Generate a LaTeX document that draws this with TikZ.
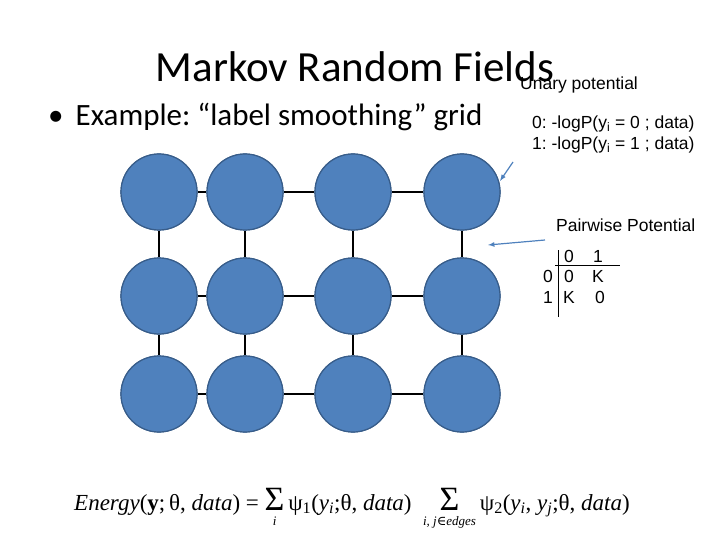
\documentclass[tikz,border=0pt]{standalone}
\usepackage{fontspec}
\setmainfont{Carlito}
\newfontfamily\arial{Liberation Sans}
\newfontfamily\tms{Liberation Serif}
\newfontfamily\dvs{DejaVu Serif}
\newcommand{\mysum}[1]{\ensuremath{\mathop{\hbox{\fontsize{34}{34}\tms Σ}}\limits_{\hbox{\rule{0pt}{14pt}\fontsize{13}{13}\tms\itshape #1}}}\,}
\frenchspacing
\begin{document}
\begin{tikzpicture}[x=1pt,y=-1pt,
  nd/.style={circle,fill={rgb,255:red,79;green,129;blue,189},draw={rgb,255:red,56;green,93;blue,138},line width=1.2pt,minimum size=76pt,inner sep=0pt},
  ed/.style={line width=1.6pt,black},
  ar/.style={-latex,line width=1.2pt,color={rgb,255:red,79;green,129;blue,189}},
  lab/.style={font=\arial\fontsize{17.5}{20}\selectfont,inner sep=0pt}]
\useasboundingbox (0,0) rectangle (720,540);
\node[anchor=base,font=\fontsize{43}{48}\selectfont,inner sep=0pt] (t) at (355,82) {Markov Random Fields};
\node[anchor=base west,font=\fontsize{31}{34}\selectfont,inner sep=0pt] (b) at (48,126) {•\hspace{12pt}Example: “label smoothing” grid};
\foreach \c/\x in {1/159,2/245,3/353,4/462}{
  \foreach \r/\y in {1/192,2/296,3/394}{
    \node[nd] (n\c\r) at (\x,\y) {};
  }}
\foreach \r in {1,2,3}{
  \draw[ed] (n1\r)--(n2\r); \draw[ed] (n2\r)--(n3\r); \draw[ed] (n3\r)--(n4\r);}
\foreach \c in {1,2,3,4}{
  \draw[ed] (n\c1)--(n\c2); \draw[ed] (n\c2)--(n\c3);}
\foreach \c in {1,2,3,4}{\foreach \r in {1,2,3}{\node[nd] at (n\c\r) {};}}
\node[lab,anchor=base west] (u) at (520,90) {Unary potential};
\node[lab,anchor=base west] (u1) at (532,129) {0: -logP(y\textsubscript{i} = 0 ; data)};
\node[lab,anchor=base west] (u2) at (532,150) {1: -logP(y\textsubscript{i} = 1 ; data)};
\coordinate (a1) at (513,162);
\draw[ar] (a1) -- (500,181);
\node[lab,anchor=base west] (pp) at (556,231) {Pairwise Potential};
\coordinate (a2) at (545,240);
\draw[ar] (a2) -- (488,245);
\node[lab,anchor=base] (h0) at (569,262) {0};
\node[lab,anchor=base] (h1) at (598,262) {1};
\node[lab,anchor=base] (r0) at (548,282) {0};
\node[lab,anchor=base] (r1) at (548,303) {1};
\node[lab,anchor=base] (c00) at (569,282) {0};
\node[lab,anchor=base] (c01) at (598,282) {K};
\node[lab,anchor=base] (c10) at (569,303) {K};
\node[lab,anchor=base] (c11) at (600,303) {0};
\draw[line width=0.8pt] (558,250)--(558,317);
\draw[line width=0.8pt] (555,265)--(620,265);
\node[anchor=base,inner sep=0pt,font=\tms\fontsize{23}{26}\selectfont] (eq) at (352,510) {\itshape Energy\upshape(\textbf{y};\,θ, \itshape data\upshape) = \mysum{i}ψ\textsubscript{1}(\itshape y\textsubscript{i}\upshape;θ, \itshape data\upshape)\enspace \mysum{i, j{\dvs\upshape∈}edges}ψ\textsubscript{2}(\itshape y\textsubscript{i}\upshape, \itshape y\textsubscript{j}\upshape;θ, \itshape data\upshape)};
\end{tikzpicture}
\end{document}
